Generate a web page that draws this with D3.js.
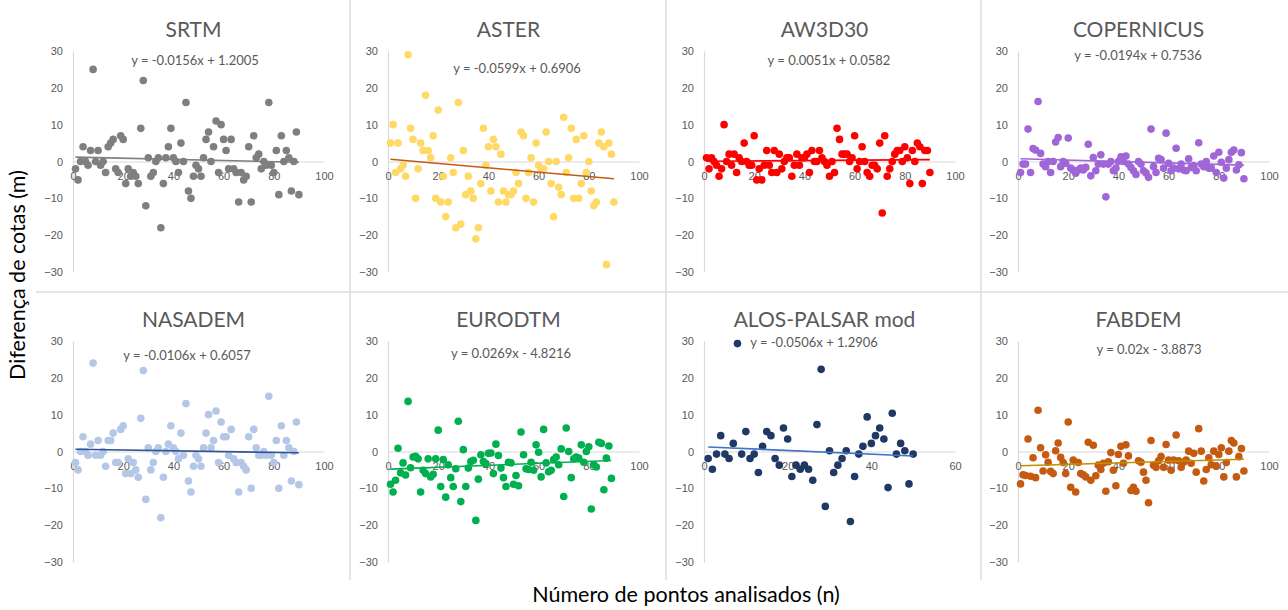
<!DOCTYPE html>
<html>
<head>
<meta charset="utf-8">
<title>Diferença de cotas</title>
<script src="https://d3js.org/d3.v7.min.js"></script>
<style>
  body { margin: 0; background: #fff; }
  svg { font-family: Lato, "Open Sans", sans-serif; }
  .tick text { fill: #595959; font-size: 11px; }
  .domain { stroke: #d9d9d9; stroke-width: 1.2; }
  .title { fill: #595959; font-size: 21px; }
  .eq { fill: #595959; font-size: 13px; }
  .axlabel { fill: #000; font-size: 21.5px; }
  .sep { stroke: #dcdcdc; stroke-width: 1.5; }
</style>
</head>
<body>
<script>
var names = ["SRTM", "ASTER", "AW3D30", "COPERNICUS", "NASADEM", "EURODTM", "ALOS-PALSAR mod", "FABDEM"];

// diferença de cotas por ponto (n = 1, 2, 3, ...)
var srtm = [-2,-5,0,4,0,-1,3,25,0,3,-1,0,-3,4,5,6,-2,-3,7,6,-6,-2,-4,-3,-4,-6,9,22,-12,1,
  -4,-3,0,1,-18,-6,1,4,9,1,0,-3,5,0,16,-8,-10,-4,-1,-2,-4,1,6,8,0,4,11,-3,10,6,
  3,-2,6,-2,-3,-11,-3,-5,-4,4,-11,7,1,2,-2,0,-1,16,-1,-3,3,-9,7,0,3,1,-8,0,8,-9];
var aster = [5,10,-3,5,-2,-1,-4,29,9,6,-10,-2,5,3,18,3,1,7,-10,14,-11,-4,-15,-11,1,-3,-18,16,-17,3,
  -9,-4,-8,-10,-21,-18,-6,9,-1,4,-8,6,4,-11,2,-8,-11,-9,-9,-8,-3,-6,8,7,-10,-3,1,-11,5,-1,
  -2,-2,8,0,-6,-15,0,-7,-9,12,-3,1,9,-10,6,-10,-6,7,-3,0,-8,-12,-11,5,8,4,-28,5,2,-11];
var aw3d30 = [1,-2,1,0,-1,-4,-2,10,0,2,-1,2,-3,1,0,5,0,-1,-1,7,-5,-2,-5,-1,3,-1,-3,3,-3,2,
  -2,0,1,1,-4,-1,2,-1,1,1,2,-3,3,0,0,3,1,0,-1,-4,0,-3,9,6,2,2,2,0,1,7,
  -2,0,4,0,-3,-4,-1,-1,-2,5,-14,7,-4,-2,0,2,3,3,0,4,1,-6,3,0,5,4,-6,3,3,-3];
var copernicus = [-3,-0.7,-0.7,8.8,-3,3.5,3.1,16.3,2.2,-0.7,-1.4,0,-3,0,5.3,6.5,-1.4,0,-0.5,6.4,
  -1.8,-2.3,-3.2,-2.3,-1.8,-2.3,-1.6,4.7,-3.9,1.1,-2.5,-0.7,1.8,-0.7,-9.6,-0.7,0,-2.5,-1.8,0,
  1.3,0,1.5,-0.7,-1.6,-2.5,-3.5,0,-0.7,-2.5,-3.1,-4.3,8.8,-1.4,-3,0.9,0.5,-1.8,7.7,-0.5,
  -2.5,-1.8,3.6,-2,-0.7,-2.3,-2.5,0.7,-1.6,-1.1,-2.5,5.1,-0.7,-1.4,0,-1.8,-1.8,1.5,-3,2.5,
  -0.2,-4.5,-1.8,0.5,2.5,3.1,-2.3,-0.9,2.4,-4.7];
var nasadem = [-3,-5,0,4,0,-1,2,24,-1,3,-1,0,-4,3,3,5,-3,-3,6,7,-6,-2,-6,-3,-5,-7,9,22,-13,1,
  -5,-3,0,1,-18,-7,0,2,7,1,0,-2,5,-1,13,-8,-11,-4,-1,-2,-4,1,5,10,1,3,11,-3,8,4,
  4,-1,6,-2,-3,-11,-3,-4,-5,4,-10,6,1,-1,-1,0,-1,15,-1,-3,3,-10,7,-1,3,1,-8,0,8,-9];
var eurodtm = [-8.9,-11,-7.8,0.9,-5.8,-3.1,-6.4,13.6,-4.4,-1.5,-1.3,-2,-11,-5.1,-6,-2,-6.9,-6.2,-2,5.8,
  -9.5,-2.2,-12.4,-3.6,-7.1,-9.5,-4.7,8.2,-13.6,0.5,-9.5,-4.5,-2.7,-2.4,-18.7,-7.5,-0.9,-2.7,-3.3,-0.5,
  -0.4,-6,2,-1.1,-4.5,-7.1,-9.5,-2.9,-3.1,-8.9,-6.5,-9.3,5.3,-0.9,-4.7,-4.9,-2.9,-5.1,1.8,-0.2,
  -6.9,6,-3.1,-5.5,-5.1,-2.2,-1.5,-3.6,0.7,-12.2,6.4,0,-7.1,-2,-1.5,-1.8,1.8,-2.9,0,1.3,
  -15.6,-3.6,-4.2,2.5,2.2,-10.4,-1.8,1.5,-7.3];
var alos = [-1.9,-4.8,-0.7,4.3,-0.7,-1.9,2.2,29.3,-0.7,5.4,-1.9,-0.7,-5.7,1.4,5.4,4.3,-1.9,-3.7,6.4,3.4,
  -6.8,-3.7,-4.8,-3.7,-4.8,-7.8,7.3,22.3,-14.9,0.2,-5.7,-3.7,-1.9,0.2,-19,-6.8,-0.7,1.4,9.4,2.2,
  4.3,6.4,3.4,-9.8,10.4,-0.7,2.2,0.2,-8.8,-0.7];
var fabdem = [-8.8,-6.3,-6.5,3.4,-6.7,-1.7,-7.1,11.2,1,-5.3,-0.9,-2.9,-5.4,-6,0.2,2.3,-1.6,-3,-6,8,
  -9.7,-2.3,-11,-3,-6,-6.3,-6.9,2.5,-7.8,1.7,-6.6,-3.7,-4.9,-3.2,-10.8,-2.8,-0.3,-5.1,-9.3,-0.8,
  1.4,-3.2,1.8,-1.2,-10.6,-9.7,-10.8,-2.5,-2.9,-5.6,-7.8,-13.9,3,-3.7,-4.3,-2.5,-1.4,-4.3,1.9,-2.3,
  -5.1,-2.3,4.5,-2.5,-4.3,-2.9,-2.3,0.1,-3.2,-0.5,-5.6,6.2,0.1,-8,-4.9,-1.7,-3.6,0.1,-4,-0.8,
  1,-6.9,-3,0.1,3,2.3,-6.9,-1.4,0.8,-5.3];

var series = [srtm, aster, aw3d30, copernicus, nasadem, eurodtm, alos, fabdem];

// linhas de tendência (Excel)
var slopes = [-0.0156, -0.0599, 0.0051, -0.0194, -0.0106, 0.0269, -0.0506, 0.02];
var intercepts = [1.2005, 0.6906, 0.0582, 0.7536, 0.6057, -4.8216, 1.2906, -3.8873];

var xMax = [100, 100, 100, 100, 100, 100, 60, 100];
var yTicks = [-30, -20, -10, 0, 10, 20, 30];

var dotColors = ["#7f7f7f", "#ffd966", "#ff0000", "#a066d8", "#b4c7e7", "#00b050", "#1f3864", "#c55a11"];
var lineColors = ["#7f7f7f", "#c55a11", "#ff0000", "#a066d8", "#2f5597", "#00b050", "#4472c4", "#bf9000"];

// layout
var colX = [73, 388, 704, 1018], plotW = 251;
var rowY = [51, 341], plotH = 221;
var eqOff = [[122, 10], [129, 18], [125, 10], [120, 5], [114, 15], [123, 13], [110, 2], [131, 9]];

var svg = d3.select("body").append("svg")
    .attr("width", 1288)
    .attr("height", 610);

// separadores
[350, 666, 981].forEach(function (x) {
  svg.append("line").attr("class", "sep")
    .attr("x1", x).attr("x2", x).attr("y1", 0).attr("y2", 580);
});
svg.append("line").attr("class", "sep")
  .attr("x1", 36).attr("x2", 1288).attr("y1", 292).attr("y2", 292);

function fmtEq(m, b) {
  return "y = " + m + "x " + (b < 0 ? "- " : "+ ") + Math.abs(b);
}

series.forEach(function (vals, k) {
  var x0 = colX[k % 4], y0 = rowY[Math.floor(k / 4)];
  var g = svg.append("g").attr("transform", "translate(" + x0 + "," + y0 + ")");

  var x = d3.scaleLinear().domain([0, xMax[k]]).range([0, plotW]);
  var y = d3.scaleLinear().domain([-30, 30]).range([plotH, 0]);

  g.append("g")
    .call(d3.axisLeft(y).tickValues(yTicks).tickSize(0).tickPadding(10));

  g.append("g")
    .attr("transform", "translate(0," + y(0) + ")")
    .call(d3.axisBottom(x).ticks(xMax[k] / 20).tickSize(0).tickPadding(11));

  var data = vals.map(function (v, i) { return { n: i + 1, v: v }; });

  g.selectAll(".dot")
    .data(data).enter().append("circle")
    .attr("class", "dot")
    .attr("cx", function (d) { return x(d.n); })
    .attr("cy", function (d) { return y(d.v); })
    .attr("r", 3.8)
    .attr("fill", dotColors[k]);

  var ends = [1, data.length];
  var trend = d3.line()
    .x(function (d) { return x(d); })
    .y(function (d) { return y(slopes[k] * d + intercepts[k]); });
  g.append("path")
    .datum(ends)
    .attr("d", trend)
    .attr("fill", "none")
    .attr("stroke", lineColors[k])
    .attr("stroke-width", 1.6);

  g.append("text").attr("class", "title")
    .attr("x", plotW / 2 - 5).attr("y", -14)
    .attr("text-anchor", "middle")
    .text(names[k]);

  g.append("text").attr("class", "eq")
    .attr("x", eqOff[k][0]).attr("y", eqOff[k][1] + 4)
    .attr("text-anchor", "middle")
    .text(fmtEq(slopes[k], intercepts[k]));
});

svg.append("text").attr("class", "axlabel")
  .attr("transform", "translate(25,275) rotate(-90)")
  .attr("text-anchor", "middle")
  .text("Diferença de cotas (m)");

svg.append("text").attr("class", "axlabel")
  .attr("x", 686).attr("y", 602)
  .attr("text-anchor", "middle")
  .text("Número de pontos analisados (n)");
</script>
</body>
</html>
